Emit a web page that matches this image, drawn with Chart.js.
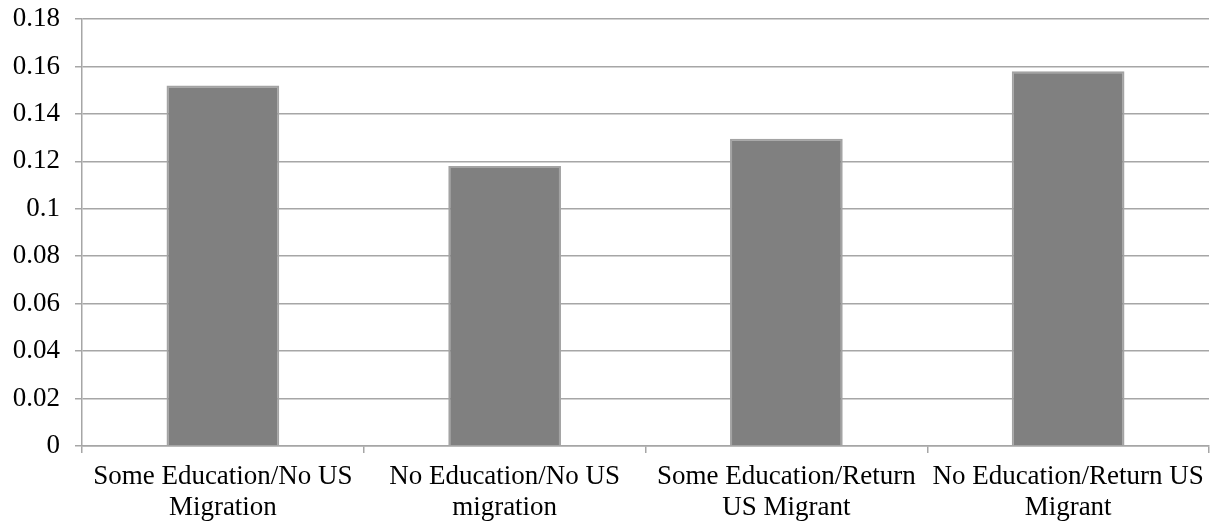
<!DOCTYPE html>
<html>
<head>
<meta charset="utf-8">
<script src="https://cdn.jsdelivr.net/npm/chart.js@4"></script>
<style>
  html, body { margin: 0; padding: 0; background: #fff; }
  #wrap { width: 1210px; height: 522px; }
</style>
</head>
<body>
<div id="wrap"><canvas id="chart"></canvas></div>
<script>
const categories = [
    ['Some Education/No US', 'Migration'],
    ['No Education/No US', 'migration'],
    ['Some Education/Return', 'US Migrant'],
    ['No Education/Return US', 'Migrant']
];
const values = [0.152, 0.118, 0.1295, 0.158];
const yTicks = [0, 0.02, 0.04, 0.06, 0.08, 0.1, 0.12, 0.14, 0.16, 0.18];

const gridColor = '#a6a6a6';
const family = '"Liberation Serif", "Times New Roman", serif';

const ctx = document.getElementById('chart').getContext('2d');
const chart = new Chart(ctx, {
    type: 'bar',
    data: {
        labels: categories,
        datasets: [{
            data: values,
            backgroundColor: '#808080',
            borderColor: '#a3a3a3',
            borderWidth: 2,
            categoryPercentage: 0.4,
            barPercentage: 1
        }]
    },
    options: {
        responsive: true,
        maintainAspectRatio: false,
        animation: false,
        layout: { padding: { top: 0, right: 1, left: 0, bottom: 0 } },
        plugins: {
            legend: { display: false },
            tooltip: { enabled: false }
        },
        scales: {
            x: {
                offset: true,
                grid: {
                    offset: true,
                    drawOnChartArea: false,
                    drawTicks: true,
                    tickLength: 7,
                    color: gridColor,
                    lineWidth: 1.5
                },
                border: { color: gridColor, width: 1.5 },
                ticks: {
                    color: '#000',
                    font: { family: family, size: 27, lineHeight: 1.15 },
                    padding: 8,
                    maxRotation: 0,
                    autoSkip: false
                },
                afterFit: (scale) => {
                    scale.height = 76;
                    // labels fit inside their categories, no side overhang wanted
                    scale.paddingLeft = 0;
                    scale.paddingRight = 0;
                }
            },
            y: {
                min: 0,
                max: 0.18,
                afterBuildTicks: (scale) => {
                    scale.ticks = yTicks.map(v => ({ value: v }));
                },
                grid: {
                    color: gridColor,
                    lineWidth: 1.5,
                    tickLength: 7
                },
                border: { color: gridColor, width: 1.5 },
                ticks: {
                    color: '#000',
                    // small lineHeight only shrinks the top overhang, label is single line
                    font: { family: family, size: 27, lineHeight: 0.3 },
                    padding: 15,
                    callback: (v) => String(Math.round(v * 100) / 100)
                },
                afterFit: (scale) => { scale.width = 82; }
            }
        }
    }
});
</script>
</body>
</html>
